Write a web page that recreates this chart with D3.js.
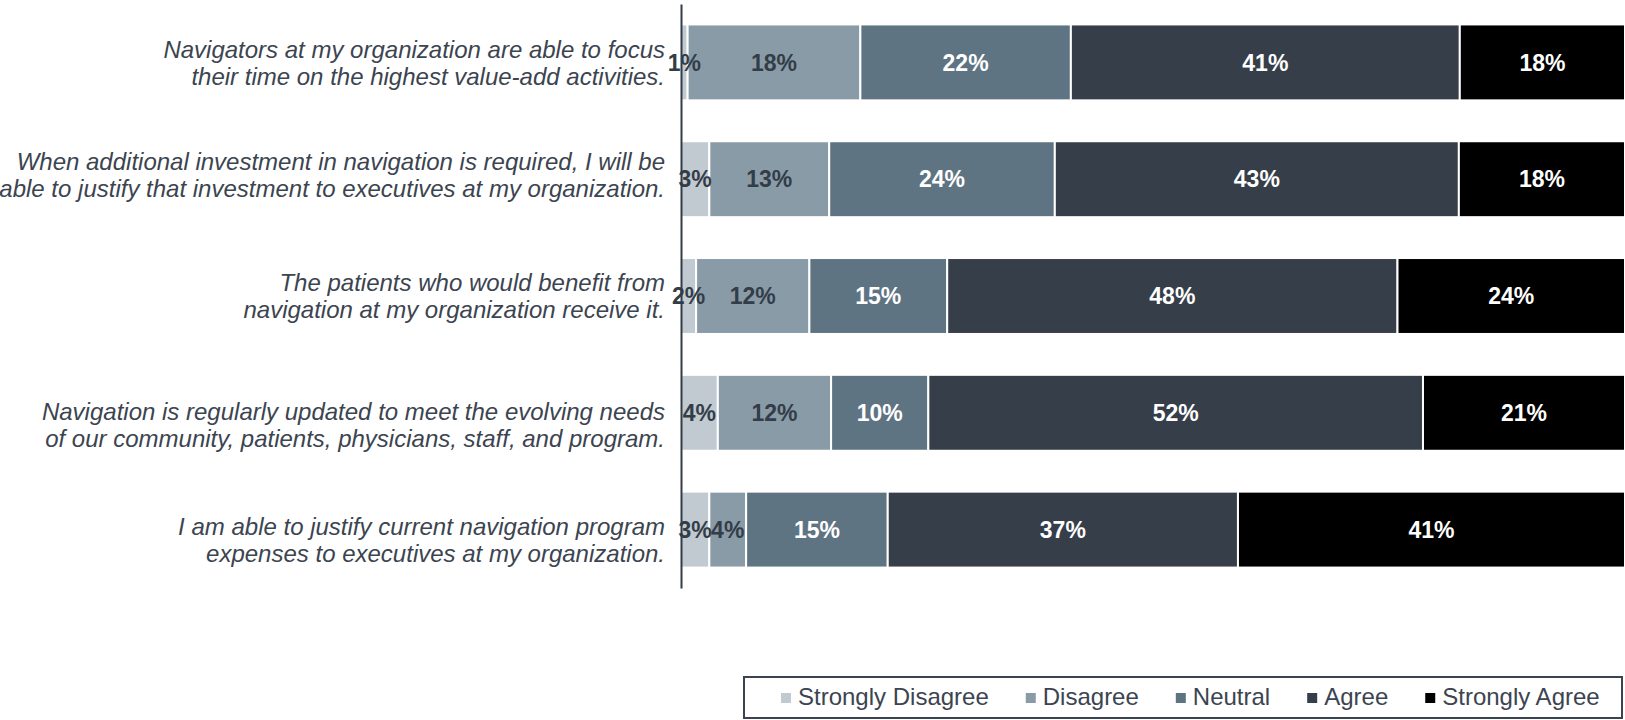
<!DOCTYPE html>
<html>
<head>
<meta charset="utf-8">
<script src="https://cdn.jsdelivr.net/npm/d3@7"></script>
<style>
  html, body { margin: 0; padding: 0; background: #ffffff; }
  svg { display: block; }
  text { font-family: "Liberation Sans", Arial, sans-serif; }
</style>
</head>
<body>
<svg id="chart" width="1625" height="720"></svg>
<script>
// ---- data ----
const categories = [
  "Navigators at my organization are able to focus\ntheir time on the highest value-add activities.",
  "When additional investment in navigation is required, I will be\nable to justify that investment to executives at my organization.",
  "The patients who would benefit from\nnavigation at my organization receive it.",
  "Navigation is regularly updated to meet the evolving needs\nof our community, patients, physicians, staff, and program.",
  "I am able to justify current navigation program\nexpenses to executives at my organization."
];
const seriesNames = ["Strongly Disagree", "Disagree", "Neutral", "Agree", "Strongly Agree"];
const stronglyDisagree = [0.7, 3.0, 1.6, 3.9, 3.0];
const disagree         = [18.3, 12.7, 12.0, 12.0, 3.9];
const neutral          = [22.3, 23.9, 14.6, 10.3, 15.0];
const agree            = [41.2, 42.8, 47.7, 52.4, 37.1];
const stronglyAgree    = [17.5, 17.6, 24.1, 21.4, 41.0];

// ---- styling ----
const colors = ["#c1cad1", "#8a9ba8", "#5f7483", "#353e49", "#000000"];
const labelColors = ["#333d48", "#333d48", "#ffffff", "#ffffff", "#ffffff"];
const textColor = "#3c4450";
// small vertical nudges (px) of the category text blocks, as in the original layout
const categoryLabelNudge = [0, -4, 0, 12, 10];

const svg = d3.select("#chart");

const rows = categories.map((c, i) => ({
  category: c,
  "Strongly Disagree": stronglyDisagree[i],
  "Disagree": disagree[i],
  "Neutral": neutral[i],
  "Agree": agree[i],
  "Strongly Agree": stronglyAgree[i]
}));

const stacked = d3.stack().keys(seriesNames)(rows);

const x = d3.scaleLinear().domain([0, 100]).range([681, 1625]);
const y = d3.scaleBand()
  .domain(categories)
  .range([4, 588])
  .paddingInner(0.35)
  .paddingOuter(0.175);

// bars
const layers = svg.append("g").selectAll("g")
  .data(stacked)
  .join("g")
  .attr("fill", (d, i) => colors[i]);

layers.selectAll("rect")
  .data(d => d)
  .join("rect")
  .attr("x", d => x(d[0]))
  .attr("y", d => y(d.data.category))
  .attr("width", d => Math.max(0, x(d[1]) - x(d[0])))
  .attr("height", y.bandwidth())
  .attr("stroke", "#ffffff")
  .attr("stroke-width", 2);

// value labels
stacked.forEach((layer, si) => {
  svg.append("g").selectAll("text")
    .data(layer)
    .join("text")
    .attr("x", d => (x(d[0]) + x(d[1])) / 2)
    .attr("y", d => y(d.data.category) + y.bandwidth() / 2)
    .attr("dy", "0.36em")
    .attr("text-anchor", "middle")
    .attr("font-size", 23)
    .attr("font-weight", "bold")
    .attr("fill", labelColors[si])
    .text(d => Math.round(d[1] - d[0]) + "%");
});

// y axis line (no ticks)
const yAxis = d3.axisLeft(y).tickSize(0).tickFormat("");
const yAxisG = svg.append("g")
  .attr("transform", "translate(681,0)")
  .call(yAxis);
yAxisG.select(".domain").attr("stroke", "#333c47").attr("stroke-width", 2);

// category labels
const catG = svg.append("g");
categories.forEach((c, i) => {
  const lines = c.split("\n");
  const lh = 27;
  const cy = y(c) + y.bandwidth() / 2 + categoryLabelNudge[i];
  const t = catG.append("text")
    .attr("text-anchor", "end")
    .attr("font-size", 24)
    .attr("font-style", "italic")
    .attr("fill", textColor);
  lines.forEach((ln, k) => {
    t.append("tspan")
      .attr("x", 665)
      .attr("y", cy + (k - (lines.length - 1) / 2) * lh)
      .attr("dy", "0.36em")
      .text(ln);
  });
});

// legend
const legend = svg.append("g");
legend.append("rect")
  .attr("x", 744).attr("y", 677)
  .attr("width", 878).attr("height", 41)
  .attr("fill", "none")
  .attr("stroke", "#3a4450")
  .attr("stroke-width", 2);

let lx = 781;
seriesNames.forEach((name, i) => {
  legend.append("rect")
    .attr("x", lx).attr("y", 693)
    .attr("width", 10).attr("height", 10)
    .attr("fill", colors[i]);
  const t = legend.append("text")
    .attr("x", lx + 17).attr("y", 705)
    .attr("font-size", 24)
    .attr("fill", textColor)
    .text(name);
  const w = t.node().getComputedTextLength();
  lx = lx + 17 + w + 37;
});
</script>
</body>
</html>
